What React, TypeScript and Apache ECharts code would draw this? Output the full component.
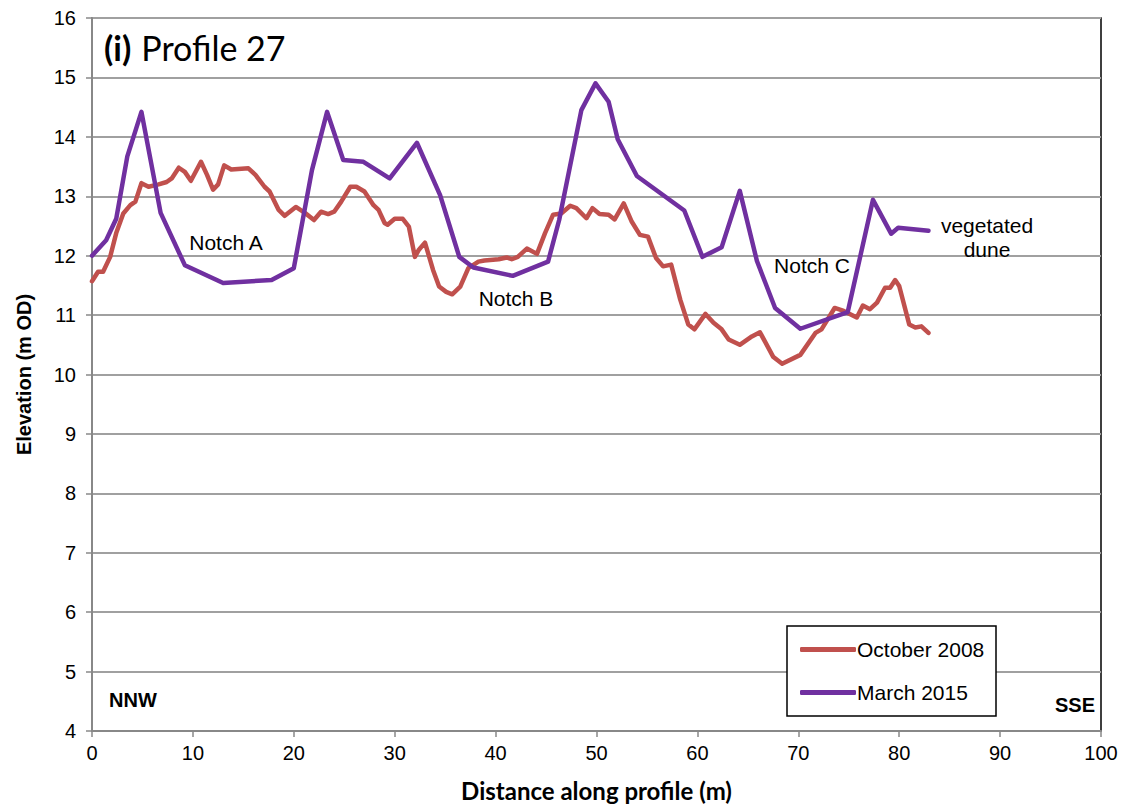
import React, { useEffect, useRef } from "react";
import * as echarts from "echarts";

const octDist = [0, 0.6, 1.1, 1.8, 2.4, 3.1, 3.8, 4.3, 4.9, 5.6, 6.6, 7.4, 7.9, 8.6, 9.2, 9.8, 10.8, 11.4, 12.0, 12.5, 13.1, 13.8, 15.5, 16.2, 17.1, 17.6, 18.5, 19.1, 20.2, 21.1, 22.0, 22.7, 23.4, 24.0, 24.7, 25.6, 26.2, 27.0, 27.9, 28.4, 29.0, 29.3, 30.0, 30.8, 31.4, 32.0, 32.4, 33.0, 33.8, 34.4, 35.1, 35.7, 36.5, 37.3, 38.3, 38.9, 40.3, 41.1, 41.6, 42.2, 43.1, 44.1, 44.9, 45.7, 46.5, 47.4, 48.0, 49.0, 49.6, 50.3, 51.2, 51.8, 52.7, 53.5, 54.3, 55.1, 55.9, 56.6, 57.4, 58.3, 59.1, 59.7, 60.8, 61.6, 62.4, 63.1, 64.2, 65.4, 66.2, 67.5, 68.4, 70.2, 71.7, 72.3, 73.6, 74.5, 75.8, 76.4, 77.1, 77.8, 78.6, 79.1, 79.6, 80.0, 81.0, 81.6, 82.2, 82.9];
const octElev = [11.57, 11.73, 11.73, 11.98, 12.38, 12.71, 12.85, 12.91, 13.22, 13.16, 13.2, 13.24, 13.3, 13.48, 13.41, 13.26, 13.58, 13.36, 13.11, 13.2, 13.52, 13.45, 13.47, 13.36, 13.16, 13.08, 12.77, 12.67, 12.82, 12.72, 12.6, 12.74, 12.7, 12.74, 12.91, 13.16, 13.16, 13.08, 12.85, 12.77, 12.55, 12.52, 12.62, 12.62, 12.49, 11.98, 12.1, 12.22, 11.76, 11.48, 11.39, 11.35, 11.48, 11.79, 11.9, 11.92, 11.94, 11.97, 11.94, 11.98, 12.12, 12.03, 12.38, 12.69, 12.71, 12.84, 12.8, 12.63, 12.8, 12.7, 12.69, 12.61, 12.88, 12.57, 12.35, 12.32, 11.96, 11.82, 11.85, 11.26, 10.84, 10.76, 11.02, 10.87, 10.76, 10.59, 10.5, 10.64, 10.71, 10.3, 10.18, 10.33, 10.7, 10.76, 11.12, 11.07, 10.96, 11.16, 11.1, 11.21, 11.46, 11.46, 11.59, 11.49, 10.84, 10.79, 10.81, 10.7];

const marDist = [0, 1.4, 2.4, 3.5, 4.9, 6.8, 9.2, 13.0, 17.8, 20.0, 21.8, 23.3, 24.9, 26.9, 29.5, 32.2, 34.5, 36.4, 37.8, 41.7, 45.2, 46.3, 48.5, 49.9, 51.2, 52.1, 54.0, 58.7, 60.5, 62.4, 64.2, 65.9, 67.7, 70.2, 74.9, 77.4, 79.2, 79.9, 82.9];
const marElev = [12.0, 12.26, 12.62, 13.67, 14.42, 12.72, 11.84, 11.54, 11.59, 11.79, 13.44, 14.42, 13.61, 13.58, 13.3, 13.9, 13.02, 11.98, 11.8, 11.66, 11.9, 12.6, 14.45, 14.9, 14.59, 13.96, 13.34, 12.76, 11.98, 12.14, 13.09, 11.91, 11.12, 10.77, 11.05, 12.94, 12.37, 12.47, 12.42];

const seriesNames = ["October 2008", "March 2015"];
const seriesColors = ["#C0504D", "#7030A0"];

const notes = [
  { text: "Notch A", x: 226, y: 242 },
  { text: "Notch B", x: 516, y: 298 },
  { text: "Notch C", x: 812, y: 265 },
  { text: "vegetated\ndune", x: 987, y: 237 },
];

const zip = (a: number[], b: number[]) => a.map((v, i) => [v, b[i]]);

export default function App() {
  const ref = useRef<HTMLDivElement>(null);
  useEffect(() => {
    if (!ref.current) return;
    const chart = echarts.init(ref.current, undefined, { renderer: "svg" });
    const arial = "'Liberation Sans', Arial, sans-serif";
    const calibri = "Lato, 'Open Sans', sans-serif";
    chart.setOption({
      animation: false,
      backgroundColor: "#ffffff",
      title: {
        text: "{b|(i)}{n|Profile 27}",
        left: 99,
        top: 25,
        textStyle: {
          rich: {
            b: { fontFamily: calibri, fontWeight: "bold", fontSize: 34, color: "#000" },
            n: { fontFamily: calibri, fontWeight: "normal", fontSize: 34, color: "#000", padding: [0, 0, 0, 10] },
          },
        },
      },
      grid: {
        left: 92,
        right: 24,
        top: 18,
        bottom: 76,
        containLabel: false,
        outerBoundsMode: "none",
        show: true,
        borderColor: "#000",
        borderWidth: 1.5,
        backgroundColor: "transparent",
      },
      legend: {
        orient: "vertical",
        left: 795,
        top: 634,
        itemWidth: 56,
        itemHeight: 5,
        itemGap: 22,
        icon: "roundRect",
        data: seriesNames,
        z: 10,
        textStyle: { fontFamily: arial, fontSize: 21, color: "#000", padding: [0, 0, 0, -4] },
      },
      xAxis: {
        type: "value",
        min: 0,
        max: 100,
        interval: 10,
        name: "Distance along profile (m)",
        nameLocation: "middle",
        nameGap: 47,
        nameTextStyle: { fontFamily: calibri, fontWeight: "bold", fontSize: 24, color: "#000" },
        axisLine: { show: true, lineStyle: { color: "#888", width: 2 } },
        axisTick: { show: true, inside: false, length: 6, lineStyle: { color: "#888", width: 1.5 } },
        axisLabel: { fontFamily: arial, fontSize: 20, color: "#000", margin: 12 },
        splitLine: { show: false },
      },
      yAxis: {
        type: "value",
        min: 4,
        max: 16,
        interval: 1,
        name: "Elevation (m OD)",
        nameLocation: "middle",
        nameGap: 58,
        nameTextStyle: { fontFamily: arial, fontWeight: "bold", fontSize: 20, color: "#000" },
        axisLine: { show: true, lineStyle: { color: "#888", width: 2 } },
        axisTick: { show: true, inside: false, length: 6, lineStyle: { color: "#888", width: 1.5 } },
        axisLabel: { fontFamily: arial, fontSize: 20, color: "#000", margin: 16 },
        splitLine: { show: true, lineStyle: { color: "#a0a0a0", width: 2 } },
      },
      series: [
        {
          name: seriesNames[0],
          type: "line",
          data: zip(octDist, octElev),
          showSymbol: false,
          symbol: "none",
          color: seriesColors[0],
          lineStyle: { color: seriesColors[0], width: 4.5, join: "round", cap: "round" },
          z: 3,
        },
        {
          name: seriesNames[1],
          type: "line",
          data: zip(marDist, marElev),
          showSymbol: false,
          symbol: "none",
          color: seriesColors[1],
          lineStyle: { color: seriesColors[1], width: 4.5, join: "round", cap: "round" },
          z: 4,
        },
      ],
      graphic: [
        {
          type: "rect",
          shape: { x: 787, y: 626, width: 209, height: 90 },
          style: { fill: "#fff", stroke: "#000", lineWidth: 1.5 },
          z: 1,
        },
        ...notes.map((n) => ({
          type: "text",
          x: n.x,
          y: n.y,
          style: {
            text: n.text,
            fontFamily: arial,
            fontSize: 21,
            fill: "#000",
            align: "center",
            verticalAlign: "middle",
            lineHeight: 24,
          },
          z: 10,
        })),
        {
          type: "text",
          x: 109,
          y: 700,
          style: { text: "NNW", fontFamily: arial, fontWeight: "bold", fontSize: 20, fill: "#000", verticalAlign: "middle" },
          z: 10,
        },
        {
          type: "text",
          x: 1095,
          y: 705,
          style: { text: "SSE", fontFamily: arial, fontWeight: "bold", fontSize: 20, fill: "#000", align: "right", verticalAlign: "middle" },
          z: 10,
        },
      ],
    });
    return () => chart.dispose();
  }, []);
  return <div ref={ref} style={{ width: 1125, height: 807, position: "absolute", left: 0, top: 0 }} />;
}
